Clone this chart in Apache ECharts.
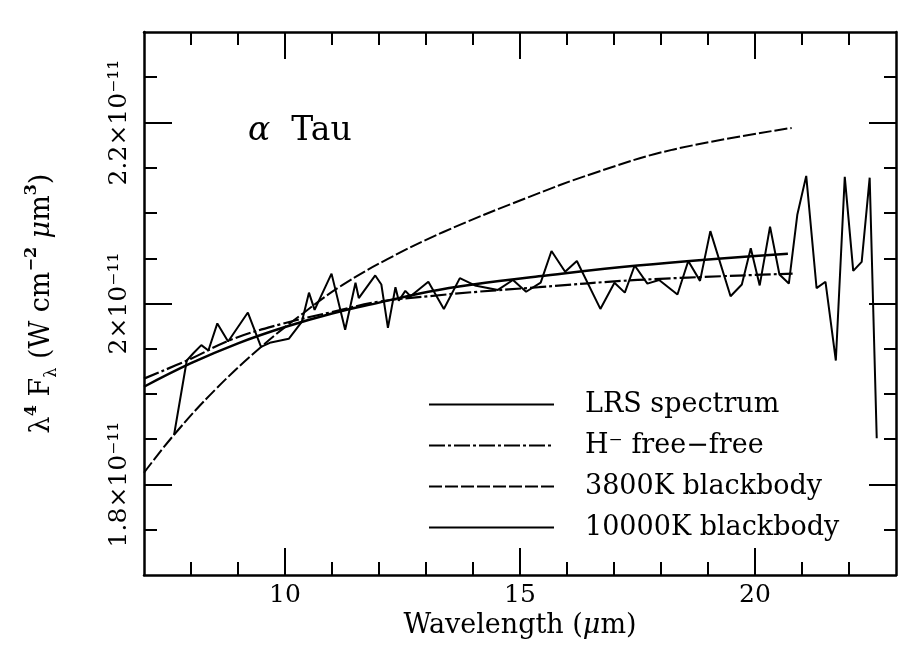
<!DOCTYPE html>
<html><head><meta charset="utf-8">
<script src="https://cdn.jsdelivr.net/npm/echarts@6/dist/echarts.min.js"></script>
<style>html,body{margin:0;padding:0;background:#fff}#c{width:905px;height:655px}</style>
</head><body><div id="c"></div>
<script>
// ---- data (flux in units of 1e-11 W cm^-2 um^3) ----
const lrsWavelength = [7.64, 7.91, 8.05, 8.22, 8.37, 8.56, 8.79, 9.21, 9.49, 9.70, 10.08, 10.36, 10.51, 10.63, 10.99, 11.28, 11.50, 11.57, 11.92, 12.05, 12.19, 12.35, 12.42, 12.56, 12.67, 13.05, 13.38, 13.72, 14.04, 14.53, 14.85, 15.13, 15.44, 15.67, 15.96, 16.21, 16.71, 17.01, 17.23, 17.44, 17.71, 17.96, 18.35, 18.58, 18.83, 19.05, 19.48, 19.72, 19.91, 20.10, 20.32, 20.52, 20.72, 20.90, 21.09, 21.31, 21.50, 21.72, 21.91, 22.09, 22.27, 22.44, 22.59];
const lrsFlux = [1.855, 1.937, 1.945, 1.954, 1.948, 1.978, 1.958, 1.990, 1.952, 1.957, 1.961, 1.980, 2.012, 1.993, 2.033, 1.971, 2.023, 2.006, 2.031, 2.021, 1.973, 2.018, 2.003, 2.014, 2.008, 2.024, 1.994, 2.028, 2.020, 2.015, 2.026, 2.013, 2.023, 2.058, 2.035, 2.047, 1.994, 2.023, 2.012, 2.042, 2.022, 2.026, 2.010, 2.047, 2.025, 2.080, 2.008, 2.021, 2.061, 2.020, 2.085, 2.032, 2.022, 2.098, 2.141, 2.017, 2.024, 1.937, 2.140, 2.036, 2.046, 2.139, 1.851];

const hffWavelength = [7.0, 8.0, 8.85, 9.9, 10.95, 12.0, 13.05, 14.1, 15.4, 17.5, 20.8];
const hffFlux = [1.917, 1.939, 1.960, 1.977, 1.990, 2.002, 2.008, 2.013, 2.018, 2.026, 2.033];

const bb3800Wavelength = [7.0, 7.64, 8.52, 9.49, 10.38, 11.21, 12.18, 13.37, 15.11, 16.57, 18.25, 20.78];
const bb3800Flux = [1.813, 1.855, 1.905, 1.952, 1.989, 2.020, 2.049, 2.079, 2.116, 2.144, 2.170, 2.194];

const bb10000Wavelength = [7.0, 8.0, 9.0, 10.0, 11.0, 12.0, 13.05, 14.0, 15.4, 17.5, 20.7];
const bb10000Flux = [1.908, 1.934, 1.956, 1.974, 1.989, 2.001, 2.013, 2.021, 2.030, 2.042, 2.055];

const seriesNames = ['LRS spectrum', 'H\u207B free\u2212free', '3800K blackbody', '10000K blackbody'];

const xMajorTicks = [10, 15, 20];
const xMinorTicks = [8, 9, 11, 12, 13, 14, 16, 17, 18, 19, 21, 22];
const yMajorTicks = [1.8, 2.0, 2.2];
const yMinorTicks = [1.75, 1.85, 1.9, 1.95, 2.05, 2.1, 2.15, 2.25];
const yTickLabels = ['1.8\u00D710\u207B\u00B9\u00B9', '2\u00D710\u207B\u00B9\u00B9', '2.2\u00D710\u207B\u00B9\u00B9'];

const pairs = (xs, ys) => xs.map((x, i) => [x, ys[i]]);

const FONT = 'DejaVu Serif';
const black = '#000';
const X_MIN = 7, X_MAX = 23, Y_MIN = 1.7, Y_MAX = 2.3;

function xAx(pos, ticks, len, opts) {
  return Object.assign({
    type: 'value', min: X_MIN, max: X_MAX, position: pos,
    axisLine: { show: false },
    axisTick: { show: true, inside: true, customValues: ticks, length: len, lineStyle: { color: black, width: 2 } },
    axisLabel: { show: false },
    splitLine: { show: false }
  }, opts || {});
}
function yAx(pos, ticks, len, opts) {
  return Object.assign({
    type: 'value', min: Y_MIN, max: Y_MAX, position: pos,
    axisLine: { show: false },
    axisTick: { show: true, inside: true, customValues: ticks, length: len, lineStyle: { color: black, width: 2 } },
    axisLabel: { show: false },
    splitLine: { show: false }
  }, opts || {});
}
const frameLine = { show: true, lineStyle: { color: black, width: 2.5 } };

const chart = echarts.init(document.getElementById('c'), null, { renderer: 'canvas' });
chart.setOption({
  animation: false,
  backgroundColor: '#fff',
  grid: { left: 144, right: 9, top: 32, bottom: 80, containLabel: false, outerBoundsMode: 'none' },
  title: {
    text: '{i|\u03B1}  Tau', left: 243, top: 110,
    textStyle: { fontFamily: FONT, fontSize: 33, fontWeight: 'normal', color: black,
      rich: { i: { fontFamily: FONT, fontSize: 33, fontStyle: 'italic', color: black } } }
  },
  legend: {
    orient: 'vertical', left: 423, top: 383, itemWidth: 125, itemHeight: 14, itemGap: 8,
    selectedMode: false, data: seriesNames,
    itemStyle: { opacity: 0 },
    textStyle: { fontFamily: FONT, fontSize: 27, color: black, lineHeight: 33, padding: [0, 0, 0, 26] }
  },
  xAxis: [
    xAx('bottom', xMajorTicks, 27, {
      axisLine: frameLine,
      axisLabel: { show: true, customValues: xMajorTicks, fontFamily: FONT, fontSize: 25, color: black, margin: 8 },
      name: '{n|Wavelength (}{i|\u03BC}{n|m)}', nameLocation: 'middle', nameGap: 36,
      nameTextStyle: { fontFamily: FONT, fontSize: 27, color: black,
        rich: { n: { fontFamily: FONT, fontSize: 27, color: black }, i: { fontFamily: FONT, fontSize: 27, fontStyle: 'italic', color: black } } }
    }),
    xAx('bottom', xMinorTicks, 13),
    xAx('top', xMajorTicks, 27, { axisLine: frameLine }),
    xAx('top', xMinorTicks, 13)
  ],
  yAxis: [
    yAx('left', yMajorTicks, 28, {
      axisLine: frameLine,
      axisLabel: { show: true, customValues: yMajorTicks, rotate: 90, margin: 12,
        fontFamily: FONT, fontSize: 25, color: black,
        formatter: v => { let k = 0; yMajorTicks.forEach((t, i) => { if (Math.abs(t - v) < Math.abs(yMajorTicks[k] - v)) k = i; }); return yTickLabels[k]; } },
      name: '{t|\u03BB}{sup|4} {t|F}{sub|\u03BB} {t|(W cm}{sup|\u22122} {it|\u03BC}{t|m}{sup|3}{t|)}',
      nameLocation: 'middle', nameRotate: 90, nameGap: 84,
      nameTextStyle: { fontFamily: FONT, fontSize: 27, color: black,
        rich: {
          t: { fontFamily: FONT, fontSize: 27, color: black, lineHeight: 36, verticalAlign: 'middle' },
          it: { fontFamily: FONT, fontSize: 27, fontStyle: 'italic', color: black, lineHeight: 36, verticalAlign: 'middle' },
          sup: { fontFamily: FONT, fontSize: 16, color: black, lineHeight: 18, verticalAlign: 'top', fontWeight: 'bold' },
          sub: { fontFamily: FONT, fontSize: 16, color: black, lineHeight: 18, verticalAlign: 'bottom' }
        } }
    }),
    yAx('left', yMinorTicks, 13),
    yAx('right', yMajorTicks, 27, { axisLine: frameLine }),
    yAx('right', yMinorTicks, 12)
  ],
  series: [
    { name: seriesNames[0], type: 'line', data: pairs(lrsWavelength, lrsFlux), symbol: 'none',
      lineStyle: { color: black, width: 2 }, itemStyle: { color: black } },
    { name: seriesNames[1], type: 'line', data: pairs(hffWavelength, hffFlux), symbol: 'none', smooth: 0.4,
      lineStyle: { color: black, width: 2.2, type: [16, 3, 3, 3] }, itemStyle: { color: black } },
    { name: seriesNames[2], type: 'line', data: pairs(bb3800Wavelength, bb3800Flux), symbol: 'none', smooth: 0.4,
      lineStyle: { color: black, width: 2, type: [13, 3] }, itemStyle: { color: black } },
    { name: seriesNames[3], type: 'line', data: pairs(bb10000Wavelength, bb10000Flux), symbol: 'none', smooth: 0.4,
      lineStyle: { color: black, width: 2.5 }, itemStyle: { color: black } }
  ]
});
</script>
</body></html>
